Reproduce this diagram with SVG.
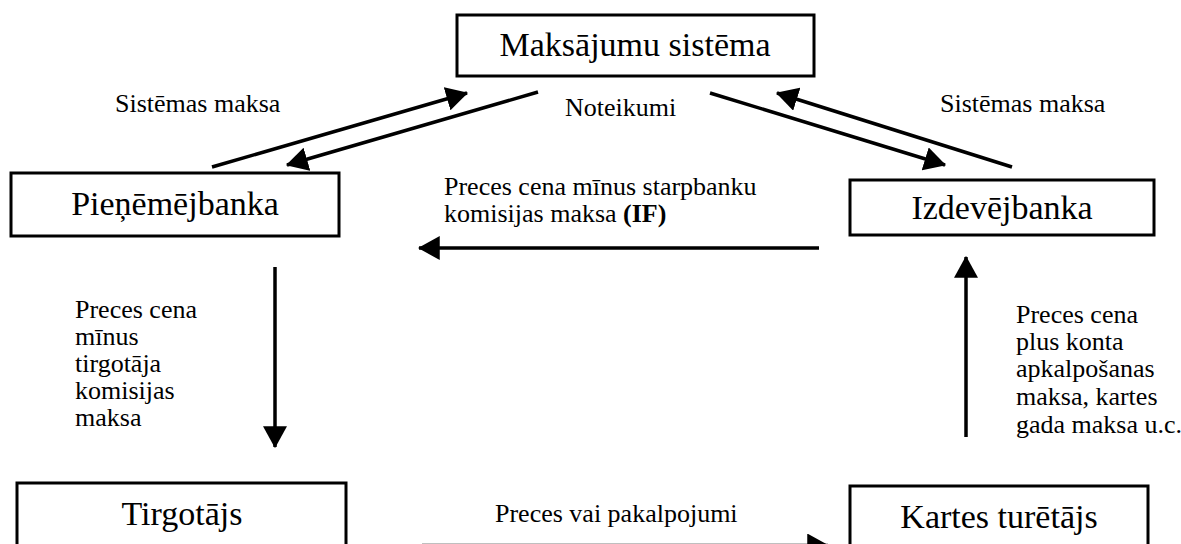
<svg xmlns="http://www.w3.org/2000/svg" width="1181" height="544" viewBox="0 0 1181 544">
<style>
.box{fill:#fff;stroke:#000;stroke-width:3}
.bt{font-family:"Liberation Serif","Times New Roman",serif;font-size:34px;fill:#000;text-anchor:middle}
.lb{font-family:"Liberation Serif","Times New Roman",serif;font-size:26px;fill:#000}
.arr{stroke:#000;stroke-width:3.5;fill:none;marker-end:url(#ah)}
</style>
<defs>
<marker id="ah" markerUnits="userSpaceOnUse" markerWidth="22" markerHeight="24" viewBox="0 0 20 22" refX="19" refY="11" orient="auto">
<path d="M0,0 L20,11 L0,22 Z" fill="#000"/>
</marker>
</defs>
<rect width="1181" height="544" fill="#fff"/>
<g id="connectors">
<line class="arr" x1="212" y1="167" x2="467" y2="93"/>
<line class="arr" x1="538" y1="92" x2="287" y2="165"/>
<line class="arr" x1="710" y1="93" x2="945" y2="165"/>
<line class="arr" x1="1012" y1="167" x2="777" y2="93"/>
<line class="arr" x1="819" y1="248" x2="419" y2="248"/>
<line class="arr" x1="275" y1="267" x2="275" y2="447"/>
<line class="arr" x1="966" y1="437" x2="966" y2="257"/>
<line class="arr" x1="422" y1="545.5" x2="828" y2="545.5"/>
<text class="lb" x="115" y="112">Sistēmas maksa</text>
<text class="lb" x="565" y="116">Noteikumi</text>
<text class="lb" x="940" y="112">Sistēmas maksa</text>
<text class="lb" x="444" y="195">Preces cena mīnus starpbanku</text>
<text class="lb" x="444" y="222">komisijas maksa <tspan font-weight="bold">(IF)</tspan></text>
<text class="lb" x="75" y="318">Preces cena</text>
<text class="lb" x="75" y="345">mīnus</text>
<text class="lb" x="75" y="372">tirgotāja</text>
<text class="lb" x="75" y="399">komisijas</text>
<text class="lb" x="75" y="426">maksa</text>
<text class="lb" x="1016" y="323">Preces cena</text>
<text class="lb" x="1016" y="350">plus konta</text>
<text class="lb" x="1016" y="377">apkalpošanas</text>
<text class="lb" x="1016" y="405">maksa, kartes</text>
<text class="lb" x="1016" y="433">gada maksa u.c.</text>
<text class="lb" x="495" y="522">Preces vai pakalpojumi</text>
</g>
<g id="maksajumu-sistema">
<rect class="box" x="457" y="15" width="357" height="61"/>
<text class="bt" x="635" y="56">Maksājumu sistēma</text>
</g>
<g id="pienemejbanka">
<rect class="box" x="11" y="173" width="328" height="63"/>
<text class="bt" x="175" y="215">Pieņēmējbanka</text>
</g>
<g id="izdevejbanka">
<rect class="box" x="850" y="180" width="304" height="55"/>
<text class="bt" x="1002" y="219">Izdevējbanka</text>
</g>
<g id="tirgotajs">
<rect class="box" x="17" y="483" width="329" height="100"/>
<text class="bt" x="182" y="525">Tirgotājs</text>
</g>
<g id="kartes-turetajs">
<rect class="box" x="850" y="486" width="298" height="100"/>
<text class="bt" x="999" y="528">Kartes turētājs</text>
</g>
</svg>
